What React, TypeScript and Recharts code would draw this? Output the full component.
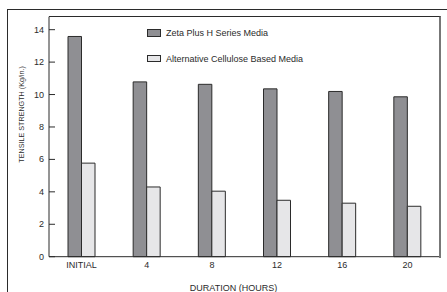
import { Bar, BarChart, Label, Legend, XAxis, YAxis } from "recharts";

const durations = ["INITIAL", "4", "8", "12", "16", "20"];
const zetaPlus = [13.58, 10.78, 10.63, 10.35, 10.19, 9.86];
const cellulose = [5.77, 4.3, 4.04, 3.48, 3.3, 3.11];
const yTicks = [0, 2, 4, 6, 8, 10, 12, 14];

const seriesNames = ["Zeta Plus H Series Media", "Alternative Cellulose Based Media"];
const DARK = "#8f8f93";
const LIGHT = "#e6e6e8";
const INK = "#2b2b2b";
const FONT = "'Liberation Sans', Arial, sans-serif";

const data = durations.map((d, i) => ({ label: d, zeta: zetaPlus[i], alt: cellulose[i] }));

function YTick({ x, y, payload }: any) {
  return (
    <g>
      <text x={x} y={y} dy={3} textAnchor="end" fontSize={9} fill={INK} fontFamily={FONT}>
        {payload.value}
      </text>
      <line x1={x + 5} x2={x + 11} y1={y} y2={y} stroke={INK} strokeWidth={1} />
    </g>
  );
}

function LegendBox() {
  const fills = [DARK, LIGHT];
  return (
    <div style={{ fontFamily: FONT, fontSize: 9, color: INK }}>
      {seriesNames.map((n, i) => (
        <div key={n} style={{ display: "flex", alignItems: "center", height: 8, marginBottom: i === 0 ? 17.5 : 0 }}>
          <div style={{ width: 12, height: 5.5, background: fills[i], border: `1px solid ${INK}` }} />
          <span style={{ marginLeft: 5, whiteSpace: "nowrap" }}>{n}</span>
        </div>
      ))}
    </div>
  );
}

export default function App() {
  return (
    <div style={{ position: "absolute", left: 0, top: 0, width: 447, height: 292, background: "#fff", overflow: "hidden" }}>
      <BarChart
        width={447}
        height={292}
        data={data}
        margin={{ top: 16.7, right: 7, left: 9, bottom: 0 }}
        barGap={0}
        barSize={13.5}
      >
        <XAxis
          dataKey="label"
          tickLine={false}
          tickSize={0}
          axisLine={{ stroke: INK }}
          tick={{ fontSize: 9, fill: INK, fontFamily: FONT }}
          tickMargin={5}
          height={35.3}
          interval={0}
        >
          <Label value="DURATION (HOURS)" position="insideBottom" offset={1} dx={-11} fontSize={9} fill={INK} fontFamily={FONT} />
        </XAxis>
        <YAxis
          domain={[0, 14.8]}
          ticks={yTicks}
          width={40}
          tickSize={0}
          tickMargin={5}
          tick={<YTick />}
          axisLine={{ stroke: INK }}
          tickLine={false}
        >
          <Label value="TENSILE STRENGTH (Kg/in.)" angle={-90} position="insideLeft" offset={12} dy={26} fontSize={7.2} fill={INK} fontFamily={FONT} />
        </YAxis>
        <Legend
          layout="vertical"
          verticalAlign="middle"
          align="center"
          wrapperStyle={{ left: 147, top: 29, width: 200, height: 40 }}
          content={<LegendBox />}
        />
        <Bar dataKey="zeta" name={seriesNames[0]} fill={DARK} stroke={INK} strokeWidth={1} isAnimationActive={false} />
        <Bar dataKey="alt" name={seriesNames[1]} fill={LIGHT} stroke={INK} strokeWidth={1} isAnimationActive={false} />
      </BarChart>
      {/* outer frame */}
      <div style={{ position: "absolute", left: 7, top: 9, width: 445, height: 290, borderTop: `1.3px solid ${INK}`, borderLeft: `1.3px solid ${INK}`, pointerEvents: "none" }} />
      {/* plot box top + right */}
      <div style={{ position: "absolute", left: 49, top: 16, width: 390, height: 241, borderTop: `1px solid ${INK}`, borderRight: "2px solid #777", pointerEvents: "none" }} />
    </div>
  );
}
